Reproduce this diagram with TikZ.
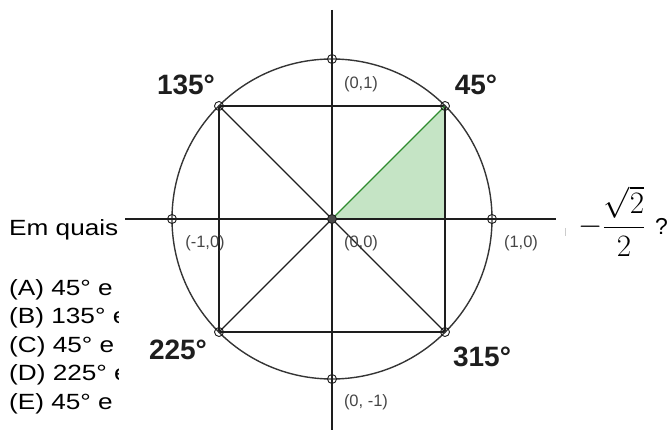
\documentclass[tikz,border=0pt]{standalone}
\usepackage{graphicx}
\usepackage{fontspec}
\setmainfont{Liberation Sans}
\newfontfamily\qfont[FakeStretch=1.19]{Liberation Sans}
\definecolor{greenfill}{RGB}{197,228,197}
\definecolor{greenline}{RGB}{48,140,48}
\definecolor{ink}{RGB}{30,30,30}
\definecolor{coordgray}{RGB}{70,70,70}
\begin{document}
\begin{tikzpicture}[x=1pt,y=-1pt,
  axis/.style={line width=1.8pt, draw=ink},
  ring/.style={line width=1.4pt, draw=ink!90},
  side/.style={line width=1.5pt, draw=ink},
  diag/.style={line width=1.1pt, draw=ink},
  marker/.style={circle, draw=ink, line width=0.9pt, minimum size=9pt, inner sep=0pt},
  deg/.style={font=\fontsize{28}{30}\selectfont\bfseries, text=ink, inner sep=0pt},
  coordlbl/.style={font=\fontsize{16.5}{18}\selectfont, text=coordgray, inner sep=0pt},
  qtext/.style={font=\qfont\fontsize{22}{26}\selectfont, anchor=base west, inner sep=0pt, text=black},
]
\useasboundingbox (0,0) rectangle (669,430);

% question text (covered by the figure)
\begin{scope}
  \clip (0,0) rectangle (118.5,430);
  \node[qtext] (q0) at (9,236) {Em quais};
  \node[qtext] (qa) at (9,295) {(A) 45° e};
  \node[qtext] (qb) at (9,323.5) {(B) 135° e};
  \node[qtext] (qc) at (9,352) {(C) 45° e};
  \node[qtext] (qd) at (9,380.5) {(D) 225° e};
  \node[qtext] (qe) at (9,409) {(E) 45° e};
\end{scope}
\node[anchor=base west, inner sep=0pt, font=\fontsize{24.88}{30}\selectfont] (frac) at (578,235)
  {\scalebox{1.25}{$\displaystyle -\frac{\sqrt{2}}{2}$}};
\node[anchor=base west, inner sep=0pt, font=\fontsize{23}{26}\selectfont] (qm) at (655,235) {?};
\draw[gray!40, line width=0.8pt] (565,228) -- (565,236);

% key points
\coordinate (O) at (332,219);
\coordinate (N) at (332,59);
\coordinate (S) at (332,379);
\coordinate (E) at (492,219);
\coordinate (W) at (172,219);
\coordinate (P45) at (445,106);
\coordinate (P135) at (219,106);
\coordinate (P225) at (219,332);
\coordinate (P315) at (445,332);
\coordinate (F) at (445,219);
\coordinate (Xl) at (125,219);
\coordinate (Xr) at (556,219);
\coordinate (Yt) at (332,10);
\coordinate (Yb) at (332,430);

% green triangle
\fill[greenfill] (O) -- (F) -- (P45) -- cycle;

% square
\draw[side] (P135) -- (P45);
\draw[side] (P225) -- (P315);
\draw[side] (P135) -- (P225);
\draw[side] (P45) -- (P315);
% diagonals
\draw[diag] (P135) -- (P315);
\draw[diag] (P225) -- (O);
\draw[line width=1.3pt, draw=greenline] (O) -- (P45);

% circle and axes
\draw[ring] (O) circle[radius=160];
\draw[axis] (Xl) -- (Xr);
\draw[axis] (Yt) -- (Yb);

% markers
\foreach \p in {N,S,E,W,P45,P135,P225,P315}{
  \node[marker] (m\p) at (\p) {};
}
\node[marker, fill=ink!80] (mO) at (O) {};

% angle labels
\node[deg] (l135) at (186,85) {135°};
\node[deg] (l45) at (476,85) {45°};
\node[deg] (l225) at (178,350) {225°};
\node[deg] (l315) at (482,357) {315°};

% coordinate labels
\node[coordlbl] (cN) at (361,84) {(0,1)};
\node[coordlbl] (cW) at (205,243) {(-1,0)};
\node[coordlbl] (cO) at (361,243) {(0,0)};
\node[coordlbl] (cE) at (521,243) {(1,0)};
\node[coordlbl] (cS) at (366,402) {(0, -1)};
\end{tikzpicture}
\end{document}
